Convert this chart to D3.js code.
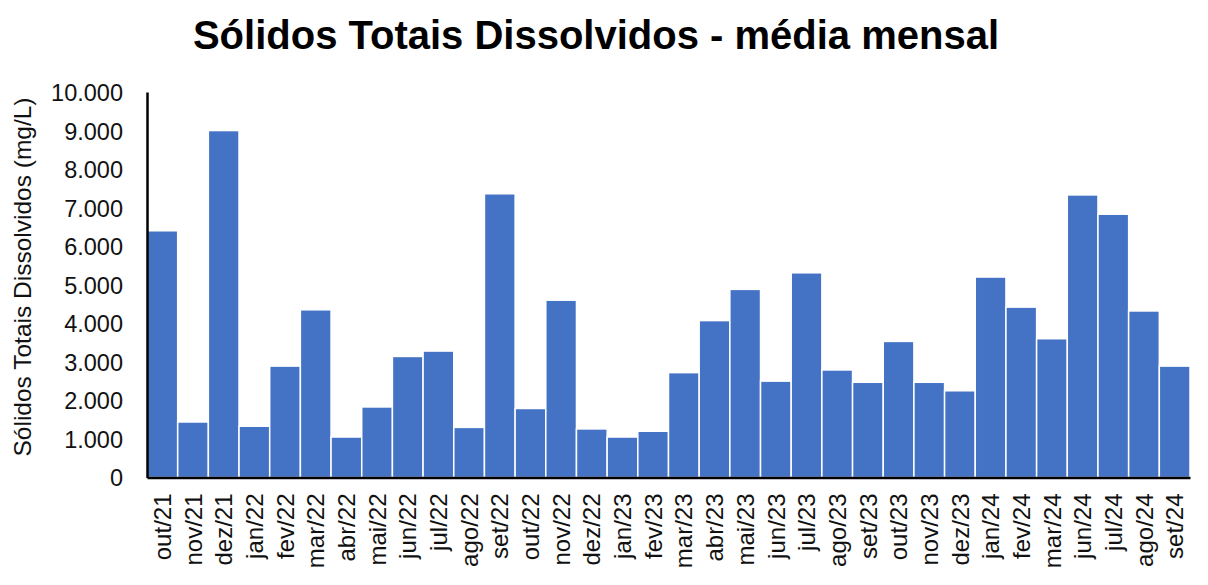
<!DOCTYPE html>
<html>
<head>
<meta charset="utf-8">
<script src="https://cdn.jsdelivr.net/npm/d3@7"></script>
<style>
  body { margin: 0; background: #fff; }
  text { font-family: "Liberation Sans", Arial, sans-serif; }
</style>
</head>
<body>
<svg id="chart"></svg>
<script>
// Sólidos Totais Dissolvidos - média mensal (mg/L)

const months = ["out/21", "nov/21", "dez/21", "jan/22", "fev/22", "mar/22", "abr/22", "mai/22",
    "jun/22", "jul/22", "ago/22", "set/22", "out/22", "nov/22", "dez/22", "jan/23", "fev/23",
    "mar/23", "abr/23", "mai/23", "jun/23", "jul/23", "ago/23", "set/23", "out/23", "nov/23",
    "dez/23", "jan/24", "fev/24", "mar/24", "jun/24", "jul/24", "ago/24", "set/24"];

const tdsValues = [6400, 1440, 9000, 1330, 2890, 4350, 1050, 1830,
    3140, 3280, 1300, 7360, 1790, 4600, 1260, 1050, 1200,
    2720, 4070, 4880, 2500, 5310, 2790, 2470, 3530, 2470,
    2250, 5200, 4420, 3600, 7330, 6830, 4320, 2890];

const yTicks = [0, 1000, 2000, 3000, 4000, 5000, 6000, 7000, 8000, 9000, 10000];

const width = 1208;
const height = 585;
const margin = { top: 92, right: 18, bottom: 108, left: 147 };

const svg = d3.select("#chart")
    .attr("width", width)
    .attr("height", height);

const x = d3.scaleBand()
    .domain(months)
    .range([margin.left, width - margin.right])
    .padding(0);

const y = d3.scaleLinear()
    .domain([0, 10000])
    .range([height - margin.bottom + 0.5, margin.top]);

const fmt = d => d3.format(",")(d).replace(/,/g, ".");

// bars
svg.append("g")
    .selectAll("rect")
    .data(tdsValues)
    .enter().append("rect")
    .attr("x", (d, i) => x(months[i]))
    .attr("y", d => y(d))
    .attr("width", x.bandwidth())
    .attr("height", d => y(0) - y(d))
    .attr("fill", "#4472c4")
    .attr("stroke", "#ffffff")
    .attr("stroke-width", 1.5);

// y axis
const yAxis = svg.append("g")
    .attr("transform", `translate(${margin.left},0)`)
    .call(d3.axisLeft(y).tickValues(yTicks).tickFormat(fmt).tickSize(0).tickPadding(24));
yAxis.select(".domain").attr("stroke", "#000").attr("stroke-width", 2.5);
yAxis.selectAll("text")
    .attr("font-size", 23.5)
    .attr("fill", "#111")
    .attr("dy", "0.36em");

// x axis
const xAxis = svg.append("g")
    .attr("transform", `translate(0,${y(0)})`)
    .call(d3.axisBottom(x).tickSize(0).tickPadding(0));
xAxis.select(".domain").attr("stroke", "#000").attr("stroke-width", 2.5);
xAxis.selectAll("text")
    .attr("font-size", 24)
    .attr("fill", "#111")
    .attr("text-anchor", "end")
    .attr("transform", "rotate(-90)")
    .attr("x", -16)
    .attr("y", 0)
    .attr("dy", "0.36em");

// title
svg.append("text")
    .attr("x", 596)
    .attr("y", 49)
    .attr("text-anchor", "middle")
    .attr("font-size", 40)
    .attr("font-weight", "bold")
    .attr("fill", "#000")
    .text("Sólidos Totais Dissolvidos - média mensal");

// y axis title
svg.append("text")
    .attr("transform", "translate(31,277) rotate(-90)")
    .attr("text-anchor", "middle")
    .attr("font-size", 24.5)
    .attr("fill", "#111")
    .text("Sólidos Totais Dissolvidos (mg/L)");
</script>
</body>
</html>
